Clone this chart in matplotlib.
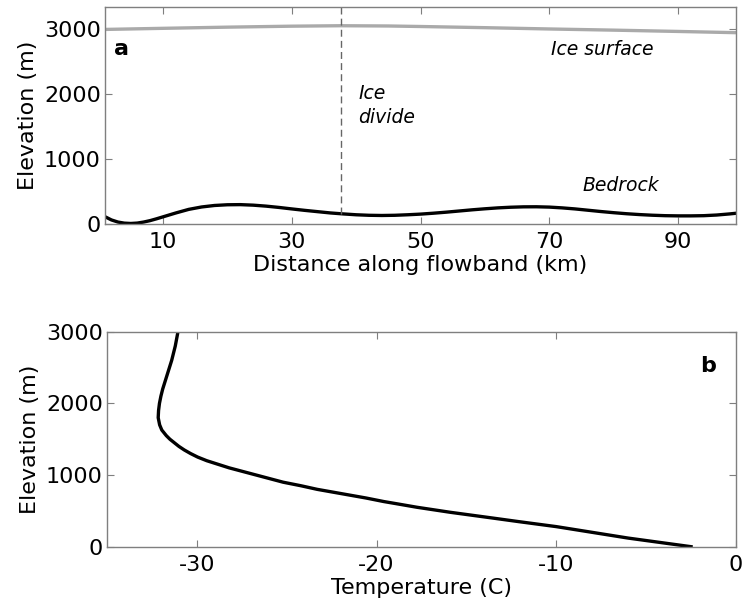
"""Flowband geometry (a) and ice temperature profile (b)."""
import numpy as np
import matplotlib
matplotlib.use("Agg")
import matplotlib.pyplot as plt

plt.rcParams["font.family"] = ["DejaVu Sans"]

# (a) geometry along the flowband, km / m
surface_km = [1, 10, 20, 30, 37.6, 45, 50, 60, 70, 80, 90, 99]
surface_m = [2995, 3012, 3030, 3045, 3052, 3048, 3040, 3022, 3002, 2984, 2964, 2945]

bed_km = [1, 2, 3, 4, 5, 6, 7, 8, 9, 10, 12, 14, 16, 18, 20, 22, 24, 26, 28,
          30, 32, 34, 36, 38, 40, 42, 44, 46, 48, 50, 52, 54, 56, 58, 60, 62,
          64, 66, 68, 70, 72, 74, 76, 78, 80, 82, 84, 86, 88, 90, 92, 94, 96,
          98, 99]
bed_m = [112, 62, 30, 13, 8, 14, 30, 52, 80, 110, 170, 225, 262, 285, 296,
         298, 290, 275, 255, 232, 210, 190, 170, 155, 142, 134, 131, 134, 142,
         152, 166, 182, 200, 218, 234, 248, 258, 264, 265, 260, 248, 232, 212,
         192, 174, 158, 145, 135, 128, 125, 125, 128, 138, 155, 165]

divide_km = 37.6

# (b) temperature profile, elevation m / deg C
temp_z = [3000, 2800, 2600, 2400, 2200, 2100, 2000, 1900, 1800, 1700, 1628,
          1550, 1500, 1450, 1400, 1350, 1300, 1250, 1200, 1160, 1100, 1020,
          960, 900, 850, 800, 760, 720, 680, 630, 600, 550, 480, 400, 350,
          280, 200, 120, 60, 0]
temp_c = [-31.05, -31.2, -31.4, -31.65, -31.9, -32.0, -32.08, -32.13, -32.15,
          -32.07, -31.95, -31.7, -31.5, -31.25, -31.0, -30.7, -30.35, -29.95,
          -29.45, -28.95, -28.2, -27.0, -26.1, -25.2, -24.2, -23.3, -22.4,
          -21.5, -20.6, -19.6, -18.9, -17.75, -15.9, -13.55, -12.1, -10.0,
          -8.0, -6.0, -4.25, -2.5]

FS = 16
FS_NOTE = 13.5
frame = "#7f7f7f"

fig = plt.figure(figsize=(7.45, 6.10), dpi=100)
ax1 = fig.add_axes([0.1410, 0.6328, 0.8469, 0.3557])
ax2 = fig.add_axes([0.1436, 0.1038, 0.8443, 0.3524])


def style(ax):
    for s in ax.spines.values():
        s.set_color(frame)
        s.set_linewidth(1.0)
    ax.tick_params(direction="in", top=True, right=True, color=frame,
                   length=5, labelsize=FS, labelcolor="black")
    ax.tick_params(axis="x", pad=6)
    ax.tick_params(axis="y", pad=3)


# panel a
ax1.plot(surface_km, surface_m, color="#aaaaaa", lw=2.4, solid_capstyle="butt")
ax1.plot(bed_km, bed_m, color="black", lw=2.4, solid_joinstyle="round")
ax1.set_xlim(1, 99)
ax1.set_ylim(0, 3340)
bed_at_divide = np.interp(divide_km, bed_km, bed_m)
ax1.plot([divide_km, divide_km], [bed_at_divide, ax1.get_ylim()[1]],
         color="#666666", lw=1.0, ls=(0, (5, 3)))
ax1.set_xticks([10, 30, 50, 70, 90])
ax1.set_yticks([0, 1000, 2000, 3000])
ax1.set_xlabel("Distance along flowband (km)", fontsize=FS, labelpad=2)
ax1.set_ylabel("Elevation (m)", fontsize=FS, labelpad=4)
style(ax1)

ax1.text(0.014, 0.779, "a", transform=ax1.transAxes, fontsize=FS,
         fontweight="bold", va="baseline")
ax1.text(40.3, 2150, "Ice\ndivide", fontsize=FS_NOTE, style="italic",
         va="top", linespacing=1.3)
ax1.text(70.3, 2605, "Ice surface", fontsize=FS_NOTE, style="italic",
         va="baseline")
ax1.text(75.2, 502, "Bedrock", fontsize=FS_NOTE, style="italic",
         va="baseline")

# panel b
ax2.plot(temp_c, temp_z, color="black", lw=2.4, solid_joinstyle="round")
ax2.set_xlim(-35, 0)
ax2.set_ylim(0, 3000)
ax2.set_xticks([-30, -20, -10, 0])
ax2.set_xticklabels(["-30", "-20", "-10", "0"])
ax2.set_yticks([0, 1000, 2000, 3000])
ax2.set_xlabel("Temperature (C)", fontsize=FS, labelpad=2)
ax2.set_ylabel("Elevation (m)", fontsize=FS, labelpad=4)
style(ax2)

ax2.text(0.943, 0.814, "b", transform=ax2.transAxes, fontsize=FS,
         fontweight="bold", va="baseline")

fig.savefig("out.png", dpi=100)
